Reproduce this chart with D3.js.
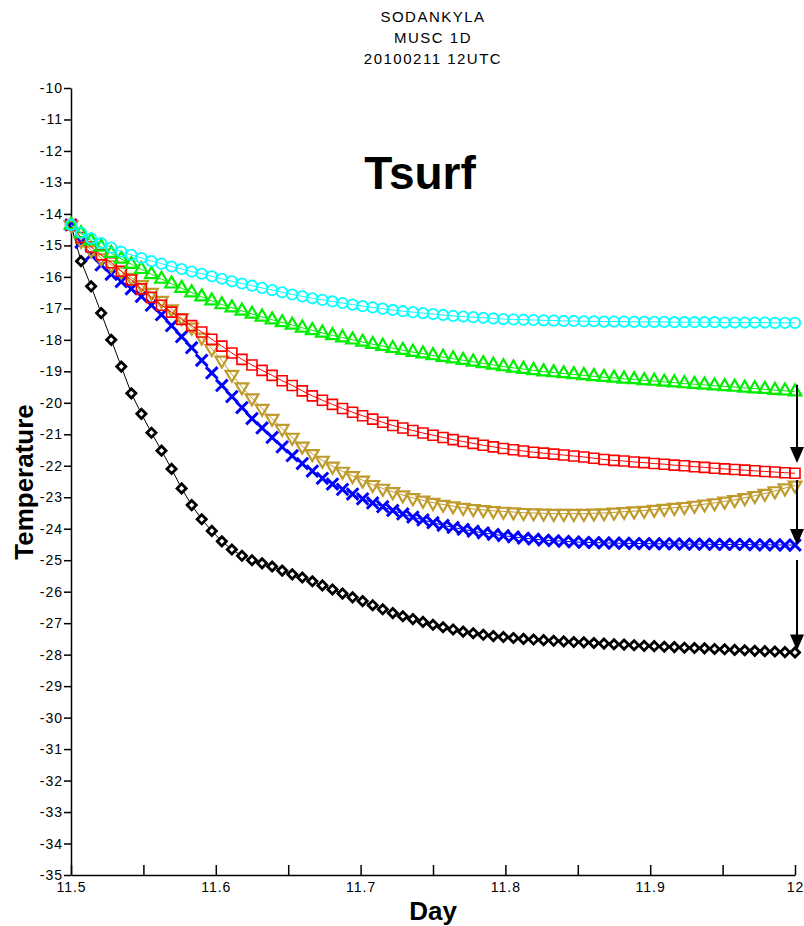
<!DOCTYPE html>
<html>
<head>
<meta charset="utf-8">
<script src="https://cdn.jsdelivr.net/npm/d3@7"></script>
<style>
  body { margin: 0; background: #fff; }
  svg { display: block; font-family: "Liberation Sans", Arial, sans-serif; }
</style>
</head>
<body>
<svg id="chart" width="804" height="926"></svg>
<script>
// header / labels
const headerLines = ['SODANKYLA', 'MUSC 1D', '20100211 12UTC'];
const plotTitle = 'Tsurf';
const xLabel = 'Day';
const yLabel = 'Temperature';

// axes
const yTickValues = [-10, -11, -12, -13, -14, -15, -16, -17, -18, -19, -20, -21, -22,
  -23, -24, -25, -26, -27, -28, -29, -30, -31, -32, -33, -34, -35];
const xTickValues = [11.5, 11.55, 11.6, 11.65, 11.7, 11.75, 11.8, 11.85, 11.9, 11.95, 12];
const xTickLabels = ['11.5', '', '11.6', '', '11.7', '', '11.8', '', '11.9', '', '12'];

// time axis: one output every 10 minutes from day 11.5 to day 12
const days = d3.range(73).map(i => 11.5 + i * 10 / 1440);

// surface temperature per run
const cyanSeries = [
  -14.35, -14.60, -14.78, -14.93, -15.07, -15.20, -15.30, -15.40, -15.50, -15.58,
  -15.67, -15.75, -15.83, -15.90, -15.98, -16.06, -16.14, -16.21, -16.28, -16.35,
  -16.42, -16.49, -16.56, -16.62, -16.68, -16.73, -16.78, -16.83, -16.88, -16.93,
  -16.97, -17.01, -17.05, -17.09, -17.12, -17.15, -17.18, -17.21, -17.24, -17.26,
  -17.28, -17.30, -17.32, -17.34, -17.35, -17.36, -17.37, -17.38, -17.39, -17.40,
  -17.40, -17.41, -17.41, -17.42, -17.42, -17.42, -17.43, -17.43, -17.43, -17.43,
  -17.44, -17.44, -17.44, -17.44, -17.44, -17.45, -17.45, -17.45, -17.45, -17.45,
  -17.46, -17.46, -17.46
];
const greenSeries = [
  -14.35, -14.62, -14.85, -15.05, -15.25, -15.43, -15.60, -15.76, -15.92, -16.07,
  -16.22, -16.36, -16.50, -16.63, -16.76, -16.88, -16.98, -17.08, -17.18, -17.27,
  -17.36, -17.45, -17.53, -17.62, -17.70, -17.78, -17.86, -17.93, -18.00, -18.07,
  -18.14, -18.20, -18.27, -18.33, -18.39, -18.44, -18.50, -18.55, -18.60, -18.65,
  -18.70, -18.75, -18.80, -18.85, -18.89, -18.93, -18.97, -19.01, -19.04, -19.07,
  -19.10, -19.13, -19.16, -19.19, -19.21, -19.24, -19.26, -19.29, -19.31, -19.34,
  -19.36, -19.39, -19.41, -19.43, -19.46, -19.48, -19.50, -19.53, -19.55, -19.57,
  -19.60, -19.62, -19.65
];
const redSeries = [
  -14.35, -14.75, -15.05, -15.30, -15.55, -15.82, -16.10, -16.38, -16.65, -16.90,
  -17.12, -17.35, -17.55, -17.75, -17.98, -18.20, -18.42, -18.62, -18.80, -18.97,
  -19.13, -19.30, -19.45, -19.62, -19.78, -19.92, -20.05, -20.18, -20.30, -20.41,
  -20.52, -20.62, -20.72, -20.80, -20.88, -20.96, -21.03, -21.10, -21.17, -21.23,
  -21.29, -21.35, -21.40, -21.45, -21.49, -21.53, -21.57, -21.60, -21.63, -21.66,
  -21.69, -21.72, -21.76, -21.80, -21.83, -21.85, -21.88, -21.90, -21.93, -21.95,
  -21.98, -22.00, -22.03, -22.05, -22.08, -22.10, -22.12, -22.14, -22.16, -22.18,
  -22.20, -22.22, -22.24
];
const goldSeries = [
  -14.35, -14.85, -15.15, -15.40, -15.62, -15.82, -16.02, -16.25, -16.50, -16.75,
  -17.02, -17.30, -17.60, -17.92, -18.28, -18.65, -19.10, -19.50, -19.85, -20.18,
  -20.50, -20.82, -21.10, -21.38, -21.62, -21.83, -22.02, -22.18, -22.32, -22.46,
  -22.60, -22.72, -22.83, -22.93, -23.02, -23.10, -23.17, -23.23, -23.28, -23.33,
  -23.37, -23.40, -23.43, -23.45, -23.47, -23.49, -23.50, -23.51, -23.52, -23.52,
  -23.52, -23.52, -23.51, -23.50, -23.48, -23.46, -23.44, -23.42, -23.39, -23.36,
  -23.33, -23.30, -23.26, -23.22, -23.18, -23.13, -23.08, -23.02, -22.95, -22.88,
  -22.80, -22.71, -22.62
];
const blueSeries = [
  -14.35, -14.90, -15.30, -15.62, -15.92, -16.15, -16.38, -16.62, -16.90, -17.20,
  -17.55, -17.90, -18.25, -18.65, -19.05, -19.45, -19.80, -20.15, -20.50, -20.80,
  -21.10, -21.40, -21.68, -21.93, -22.17, -22.40, -22.58, -22.75, -22.90, -23.05,
  -23.18, -23.30, -23.42, -23.53, -23.63, -23.72, -23.81, -23.89, -23.96, -24.02,
  -24.08, -24.13, -24.18, -24.22, -24.26, -24.30, -24.33, -24.36, -24.38, -24.40,
  -24.42, -24.43, -24.44, -24.45, -24.46, -24.46, -24.47, -24.47, -24.48, -24.48,
  -24.48, -24.49, -24.49, -24.49, -24.50, -24.50, -24.50, -24.50, -24.51, -24.51,
  -24.51, -24.52, -24.52
];
const blackSeries = [
  -14.35, -15.50, -16.30, -17.15, -18.00, -18.85, -19.70, -20.35, -20.95, -21.52,
  -22.10, -22.72, -23.25, -23.70, -24.07, -24.40, -24.66, -24.86, -25.00, -25.10,
  -25.20, -25.33, -25.45, -25.55, -25.67, -25.80, -25.93, -26.06, -26.18, -26.30,
  -26.43, -26.56, -26.68, -26.78, -26.87, -26.96, -27.05, -27.13, -27.20, -27.27,
  -27.32, -27.37, -27.41, -27.44, -27.47, -27.50, -27.52, -27.54, -27.56, -27.58,
  -27.60, -27.61, -27.63, -27.65, -27.67, -27.68, -27.70, -27.72, -27.73, -27.75,
  -27.76, -27.78, -27.79, -27.80, -27.82, -27.83, -27.85, -27.86, -27.88, -27.89,
  -27.90, -27.92, -27.93
];

// arrows at the last time step: [from, to] in degrees
const arrowDay = 12;
const arrowSpans = [[-19.43, -21.91], [-22.45, -24.52], [-24.99, -27.87]];

const svg = d3.select('#chart');

const x = d3.scaleLinear().domain([11.5, 12]).range([71, 795]);
const y = d3.scaleLinear().domain([-35, -10]).range([875, 88]);

// header
svg.append('g')
  .selectAll('text')
  .data(headerLines)
  .enter()
  .append('text')
  .attr('x', 433)
  .attr('y', (d, i) => 22 + i * 21)
  .attr('text-anchor', 'middle')
  .attr('font-size', 15)
  .attr('letter-spacing', 1.5)
  .text(d => d);

svg.append('text')
  .attr('x', 420)
  .attr('y', 189)
  .attr('text-anchor', 'middle')
  .attr('font-size', 46)
  .attr('font-weight', 'bold')
  .text(plotTitle);

// y axis
const yAxis = svg.append('g')
  .attr('transform', 'translate(71,0)')
  .call(d3.axisLeft(y)
    .tickValues(yTickValues)
    .tickFormat(d => String(d))
    .tickSize(7)
    .tickSizeOuter(0)
    .tickPadding(1));

// x axis, ticks point up into the plot
const xAxis = svg.append('g')
  .attr('transform', 'translate(0,875)')
  .call(d3.axisBottom(x)
    .tickValues(xTickValues)
    .tickFormat((d, i) => xTickLabels[i])
    .tickSize(-10)
    .tickSizeOuter(0)
    .tickPadding(7));

[yAxis, xAxis].forEach(g => {
  g.selectAll('path, line').attr('stroke', '#000').attr('stroke-width', 1.5);
  g.selectAll('text')
    .attr('font-size', 14)
    .attr('letter-spacing', 1)
    .attr('fill', '#000')
    .attr('font-family', '"Liberation Sans", Arial, sans-serif');
});

svg.append('text')
  .attr('transform', 'translate(33,482) rotate(-90)')
  .attr('text-anchor', 'middle')
  .attr('font-size', 26)
  .attr('font-weight', 'bold')
  .text(yLabel);

svg.append('text')
  .attr('x', 433)
  .attr('y', 920)
  .attr('text-anchor', 'middle')
  .attr('font-size', 26)
  .attr('font-weight', 'bold')
  .text(xLabel);

// series, drawn bottom to top
const series = [
  { values: blackSeries, color: '#000000', shape: d3.symbolSquare, size: 42, rot: 45, width: 2.8, fill: '#fff' },
  { values: blueSeries, color: '#0000ff', shape: d3.symbolTimes, size: 90, rot: 0, width: 3, fill: 'none' },
  { values: goldSeries, color: '#bf9a2c', shape: d3.symbolTriangle, size: 70, rot: 180, width: 2.2, fill: 'none' },
  { values: redSeries, color: '#ff0000', shape: d3.symbolSquare, size: 100, rot: 0, width: 1.6, fill: 'none' },
  { values: greenSeries, color: '#00ee00', shape: d3.symbolTriangle, size: 70, rot: 0, width: 2.2, fill: 'none' },
  { values: cyanSeries, color: '#00ffff', shape: d3.symbolCircle, size: 85, rot: 0, width: 1.8, fill: 'none' }
];

const line = d3.line()
  .x((d, i) => x(days[i]))
  .y(d => y(d));

series.forEach(s => {
  const g = svg.append('g');

  g.append('path')
    .attr('d', line(s.values))
    .attr('fill', 'none')
    .attr('stroke', s.color)
    .attr('stroke-width', 1);

  g.selectAll('path.marker')
    .data(s.values)
    .enter()
    .append('path')
    .attr('class', 'marker')
    .attr('d', d3.symbol().type(s.shape).size(s.size))
    .attr('transform', (d, i) => `translate(${x(days[i])}, ${y(d)}) rotate(${s.rot})`)
    .attr('fill', s.fill)
    .attr('stroke', s.color)
    .attr('stroke-width', s.width);
});

// arrows
const arrows = svg.append('g');
arrowSpans.forEach(([from, to]) => {
  const ax = x(arrowDay) + 2;
  const y0 = y(from);
  const y1 = y(to);
  arrows.append('line')
    .attr('x1', ax).attr('x2', ax)
    .attr('y1', y0).attr('y2', y1 - 10)
    .attr('stroke', '#000')
    .attr('stroke-width', 2);
  arrows.append('path')
    .attr('d', `M${ax - 7},${y1 - 16} L${ax + 7},${y1 - 16} L${ax},${y1} Z`)
    .attr('fill', '#000');
});
</script>
</body>
</html>
